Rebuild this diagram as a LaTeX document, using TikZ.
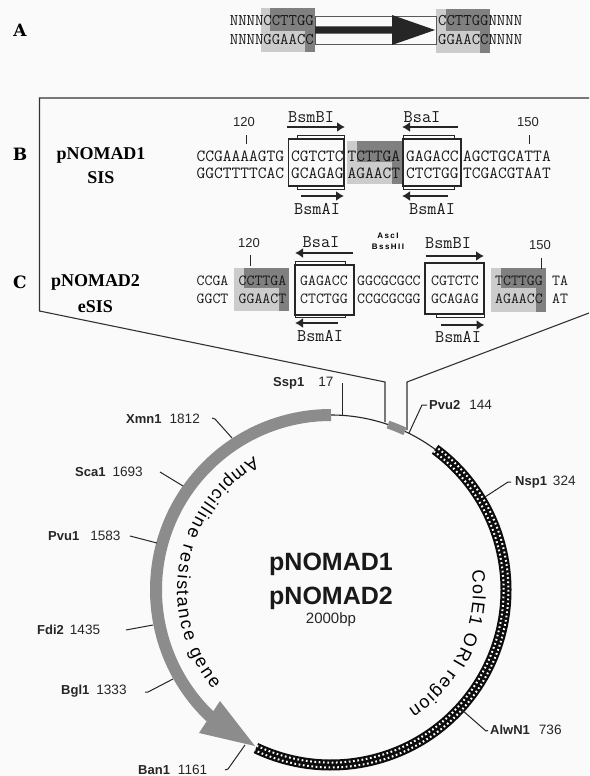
\documentclass[tikz,border=0pt]{standalone}
\usepackage{fontspec}
\setsansfont{Liberation Sans}
\newfontfamily\slabfont{DejaVu Serif}
\newfontfamily\romfont{Liberation Serif}
\usetikzlibrary{positioning,arrows.meta,decorations.text}
\newcommand{\fs}[1]{\fontsize{#1}{#1}\selectfont}
\newcommand{\site}[3][7pt]{{\bfseries\fs{13}#2}\hspace{#1}#3}
\newcommand{\curved}{\sffamily\fs{18}}

\begin{document}
\begin{tikzpicture}[x=1pt, y=-1pt, font=\sffamily\fs{13}, >=Latex,
  panel/.style={font=\slabfont\bfseries\fs{17}, inner sep=0pt},
  vect/.style={font=\romfont\bfseries\fs{18}, inner sep=0pt},
  seqa/.style={font=\ttfamily\fs{16.3}, inner sep=0pt, text=black!90},
  seqb/.style={font=\ttfamily\fs{17}, inner sep=0pt, text=black!90},
  seqc/.style={font=\ttfamily\fs{15.4}, inner sep=0pt, text=black!90},
  enz/.style={font=\ttfamily\fs{17.8}, inner sep=0pt, text=black!90},
  num/.style={font=\sffamily\fs{13}, inner sep=0pt, text=black!85},
  lab/.style={font=\sffamily\fs{13.6}, inner sep=0pt, anchor=west, text=black!85},
  plas/.style={font=\sffamily\bfseries\fs{25}, inner sep=0pt, text=black!90},
  rsbox/.style={draw=black!85, line width=1.1pt, fill=black!2, inner sep=0pt},
  strip/.style={draw=black!85, line width=.9pt, fill=white, inner sep=0pt},
  lgrey/.style={fill=black!20},
  dgrey/.style={fill=black!50},
  flow/.style={-{Latex[length=8pt,width=10pt]}, line width=2.8pt, black!85},
  tick/.style={line width=1pt, black!85},
  frame/.style={line width=1.1pt, black!80}]
  \path[use as bounding box, fill=black!2] (0,0) rectangle (589,776);
  % panel A
  \fill[lgrey] (261,8) rectangle (315,52);
  \fill[dgrey] (270,8) rectangle (315,31);
  \fill[dgrey] (305,31) rectangle (315,52);
  \fill[lgrey] (436,9) rectangle (490,53);
  \fill[dgrey] (446,9) rectangle (490,31);
  \fill[dgrey] (480,31) rectangle (490,53);
  \node[panel] (pa) at (20,30) {A};
  \node[seqa, anchor=east] (a1) at (314,21) {NNNNCCTTGG};
  \node[seqa, anchor=east] (a2) at (314,40) {NNNNGGAACC};
  \node[seqa, anchor=west] (a3) at (438,21) {CCTTGGNNNN};
  \node[seqa, anchor=west] (a4) at (438,40) {GGAACCNNNN};
  \draw[black!65, line width=.7pt] (315,16) rectangle (436,44);
  \fill[black!85] (315,26.3) -- (392,26.3) -- (392,15) -- (435,30) -- (392,45) -- (392,33.7) -- (315,33.7) -- cycle;

  % panel B
  \fill[lgrey] (347,141) rectangle (403,184);
  \fill[dgrey] (357,141) rectangle (403,162);
  \fill[dgrey] (392,162) rectangle (403,184);
  \node[panel] (pb) at (20,154) {B};
  \node[vect] (nom1) at (101,155) {pNOMAD1};
  \node[vect, below=8pt of nom1] (sis) {SIS};
  \node[strip, minimum width=47pt, minimum height=54pt] (bs1) at (320.5,162) {};
  \node[strip, minimum width=51pt, minimum height=54pt] (bs2) at (428.5,162) {};
  \node[rsbox, minimum width=55.5pt, minimum height=47pt] (bb1) at (316.25,162.5) {};
  \node[rsbox, minimum width=58pt, minimum height=47pt] (bb2) at (432,162.5) {};
  \node[seqb, anchor=west] (b1) at (196.5,156) {CCGAAAAGTG};
  \node[seqb, anchor=west] (b2) at (291,156) {CGTCTC};
  \node[seqb, anchor=west] (b3) at (347.5,156) {TCTTGA};
  \node[seqb, anchor=west] (b4) at (406,156) {GAGACC};
  \node[seqb, anchor=west] (b5) at (463,156) {AGCTGCATTA};
  \node[seqb, anchor=west] (b6) at (196.5,173) {GGCTTTTCAC};
  \node[seqb, anchor=west] (b7) at (291,173) {GCAGAG};
  \node[seqb, anchor=west] (b8) at (347.5,173) {AGAACT};
  \node[seqb, anchor=west] (b9) at (406,173) {CTCTGG};
  \node[seqb, anchor=west] (b10) at (463,173) {TCGACGTAAT};
  \node[num] (n120b) at (244,122) {120};
  \node[num] (n150b) at (528,122) {150};
  \coordinate (t120b) at (246,135); \coordinate (u120b) at (246,144);
  \coordinate (t150b) at (529,135); \coordinate (u150b) at (529,144);
  \draw[tick] (t120b) -- (u120b);
  \draw[tick] (t150b) -- (u150b);
  \node[enz] (bsmbi1) at (311,117) {BsmBI};
  \node[enz] (bsai1) at (422,117) {BsaI};
  \node[enz] (bsmai1) at (317,209) {BsmAI};
  \node[enz] (bsmai2) at (432,209) {BsmAI};
  \coordinate (f1) at (287,127); \coordinate (f2) at (345,127);
  \coordinate (f3) at (458,127); \coordinate (f4) at (402,127);
  \coordinate (f5) at (300.5,196); \coordinate (f6) at (344,196);
  \coordinate (f7) at (448,196); \coordinate (f8) at (402,196);
  \draw[flow] (f1) -- (f2);
  \draw[flow] (f3) -- (f4);
  \draw[flow] (f5) -- (f6);
  \draw[flow] (f7) -- (f8);

  % panel C
  \fill[lgrey] (234,268) rectangle (289,311);
  \fill[dgrey] (244,268) rectangle (289,288);
  \fill[dgrey] (279,288) rectangle (289,311);
  \fill[lgrey] (491,268) rectangle (545.5,312);
  \fill[dgrey] (501,268) rectangle (545.5,288);
  \fill[dgrey] (536,288) rectangle (545.5,312);
  \node[panel] (pc) at (20,282) {C};
  \node[vect] (nom2) at (95.5,282) {pNOMAD2};
  \node[vect, below=10pt of nom2] (esis) {eSIS};
  \node[strip, minimum width=50pt, minimum height=56pt] (cs1) at (320,289) {};
  \node[strip, minimum width=48pt, minimum height=55pt] (cs2) at (460,289.5) {};
  \node[rsbox, minimum width=59pt, minimum height=50pt] (cb1) at (324.5,290) {};
  \node[rsbox, minimum width=59pt, minimum height=51pt] (cb2) at (454.5,288.5) {};
  \node[seqc, anchor=west] (c1) at (196.5,281) {CCGA};
  \node[seqc, anchor=west] (c2) at (238.5,281) {CCTTGA};
  \node[seqc, anchor=west] (c3) at (300,281) {GAGACC};
  \node[seqc, anchor=west] (c4) at (357,281) {GGCGCGCC};
  \node[seqc, anchor=west] (c5) at (431,281) {CGTCTC};
  \node[seqc, anchor=west] (c6) at (495,281) {TCTTGG};
  \node[seqc, anchor=west] (c7) at (552,281) {TA};
  \node[seqc, anchor=west] (c8) at (196.5,299) {GGCT};
  \node[seqc, anchor=west] (c9) at (238.5,299) {GGAACT};
  \node[seqc, anchor=west] (c10) at (300,299) {CTCTGG};
  \node[seqc, anchor=west] (c11) at (357,299) {CCGCGCGG};
  \node[seqc, anchor=west] (c12) at (431,299) {GCAGAG};
  \node[seqc, anchor=west] (c13) at (495,299) {AGAACC};
  \node[seqc, anchor=west] (c14) at (552,299) {AT};
  \node[num] (n120c) at (249,243) {120};
  \node[num] (n150c) at (540,245) {150};
  \coordinate (t120c) at (250.5,255); \coordinate (u120c) at (250.5,266);
  \coordinate (t150c) at (541.5,258); \coordinate (u150c) at (541.5,269);
  \draw[tick] (t120c) -- (u120c);
  \draw[tick] (t150c) -- (u150c);
  \node[enz] (bsai2) at (321,242) {BsaI};
  \node[enz] (bsmbi2) at (448,243) {BsmBI};
  \node[enz] (bsmai3) at (320,336) {BsmAI};
  \node[enz] (bsmai4) at (458,337) {BsmAI};
  \node[font=\sffamily\bfseries\fs{8}, inner sep=0pt, align=center] (asc) at (388,241.5) {\addfontfeature{LetterSpace=18}AscI\\[3pt]\addfontfeature{LetterSpace=18}BssHII};
  \coordinate (g1) at (353,253); \coordinate (g2) at (295,253);
  \coordinate (g3) at (425.5,256); \coordinate (g4) at (484,256);
  \coordinate (g5) at (338,323); \coordinate (g6) at (295,323);
  \coordinate (g7) at (441,325); \coordinate (g8) at (484.5,325);
  \draw[flow] (g1) -- (g2);
  \draw[flow] (g3) -- (g4);
  \draw[flow] (g5) -- (g6);
  \draw[flow] (g7) -- (g8);

  % zoom frame
  \draw[frame] (589,98) -- (39.5,98) -- (39.5,311) -- (385,382) -- (385,422);
  \draw[frame] (589,313) -- (407,382) -- (407,430);

  % plasmid
  \begin{scope}[shift={(331,590)}, y=1pt]
    \draw[line width=1.1pt, black!85] (90:175) arc (90:53:175);
    \draw[line width=12pt, black!45] (90:175) arc (90:226.5:175);
    \draw[line width=8pt, black!45] (71:175) arc (71:65:175);
    \draw[line width=11pt, black!95] (53.5:175) arc (53.5:-115.4:175);
    \draw[line width=2pt, white, dash pattern=on 1.7pt off 2.6pt] (53.5:172.6) arc (53.5:-115.4:172.6);
    \draw[line width=2pt, white, dash pattern=on 1.7pt off 2.6pt, dash phase=2.1pt] (53.5:177.4) arc (53.5:-115.4:177.4);
    \path[decorate, decoration={text along path, text={|\curved|Ampicilline resistance gene}, text align={fit to path}}] (120:154) arc (120:220:154);
    \path[decorate, decoration={text along path, text={|\curved|ColE1 ORI region}, text align={fit to path}}] (8:142) arc (8:-57:142);
  \end{scope}
  \fill[black!45] (220,701) -- (199,733) -- (255,746) -- cycle;
  \node[plas] (pn1) at (331,564) {pNOMAD1};
  \node[plas, below=11pt of pn1] (pn2) {pNOMAD2};
  \node[font=\sffamily\fs{15}, inner sep=0pt, text=black!85, below=3pt of pn2] (size) {2000bp};

  % restriction sites
  \node[lab] (ssp) at (273,383) {\site[14pt]{Ssp1}{17}};
  \node[lab] (pvu2) at (429,405) {\site[9pt]{Pvu2}{144}};
  \node[lab] (nsp) at (515,482) {\site[6pt]{Nsp1}{324}};
  \node[lab] (alw) at (490,730) {\site[9pt]{AlwN1}{736}};
  \node[lab] (ban) at (138,770) {\site[8pt]{Ban1}{1161}};
  \node[lab] (bgl) at (61,691) {\site[7pt]{Bgl1}{1333}};
  \node[lab] (fdi) at (37,630) {\site[6pt]{Fdi2}{1435}};
  \node[lab] (pvu1) at (48,536) {\site[11pt]{Pvu1}{1583}};
  \node[lab] (sca) at (75,472) {\site[7pt]{Sca1}{1693}};
  \node[lab] (xmn) at (126,419) {\site[8pt]{Xmn1}{1812}};
  \coordinate (s1) at (342,415); \coordinate (e1) at (342,383);
  \coordinate (s2) at (409,433); \coordinate (e2) at (422,405);
  \coordinate (s3) at (485,497); \coordinate (e3) at (508,482);
  \coordinate (s4) at (462,710); \coordinate (e4) at (486,731);
  \coordinate (s5) at (245,745); \coordinate (e5) at (228,769);
  \coordinate (s6) at (173,679); \coordinate (e6) at (148,692);
  \coordinate (s7) at (153,625); \coordinate (e7) at (126,630);
  \coordinate (s8) at (157,543); \coordinate (e8) at (130,536);
  \coordinate (s9) at (183,486); \coordinate (e9) at (160,472);
  \coordinate (s10) at (232,438); \coordinate (e10) at (215,419);
  \draw[tick] (s1) -- (e1);
  \draw[tick, shorten >=2pt] (s2) -- (e2) -- (pvu2.west);
  \draw[tick, shorten >=4pt] (s3) -- (e3) -- (nsp.west);
  \draw[tick, shorten >=2pt] (s4) -- (e4) -- (alw.west);
  \draw[tick] (s5) -- (e5) -- ++(-3,1);
  \draw[tick] (s6) -- (e6) -- ++(-3,0);
  \draw[tick] (s7) -- (e7);
  \draw[tick] (s8) -- (e8);
  \draw[tick] (s9) -- (e9);
  \draw[tick] (s10) -- (e10) -- ++(-3,-1);
\end{tikzpicture}
\end{document}
